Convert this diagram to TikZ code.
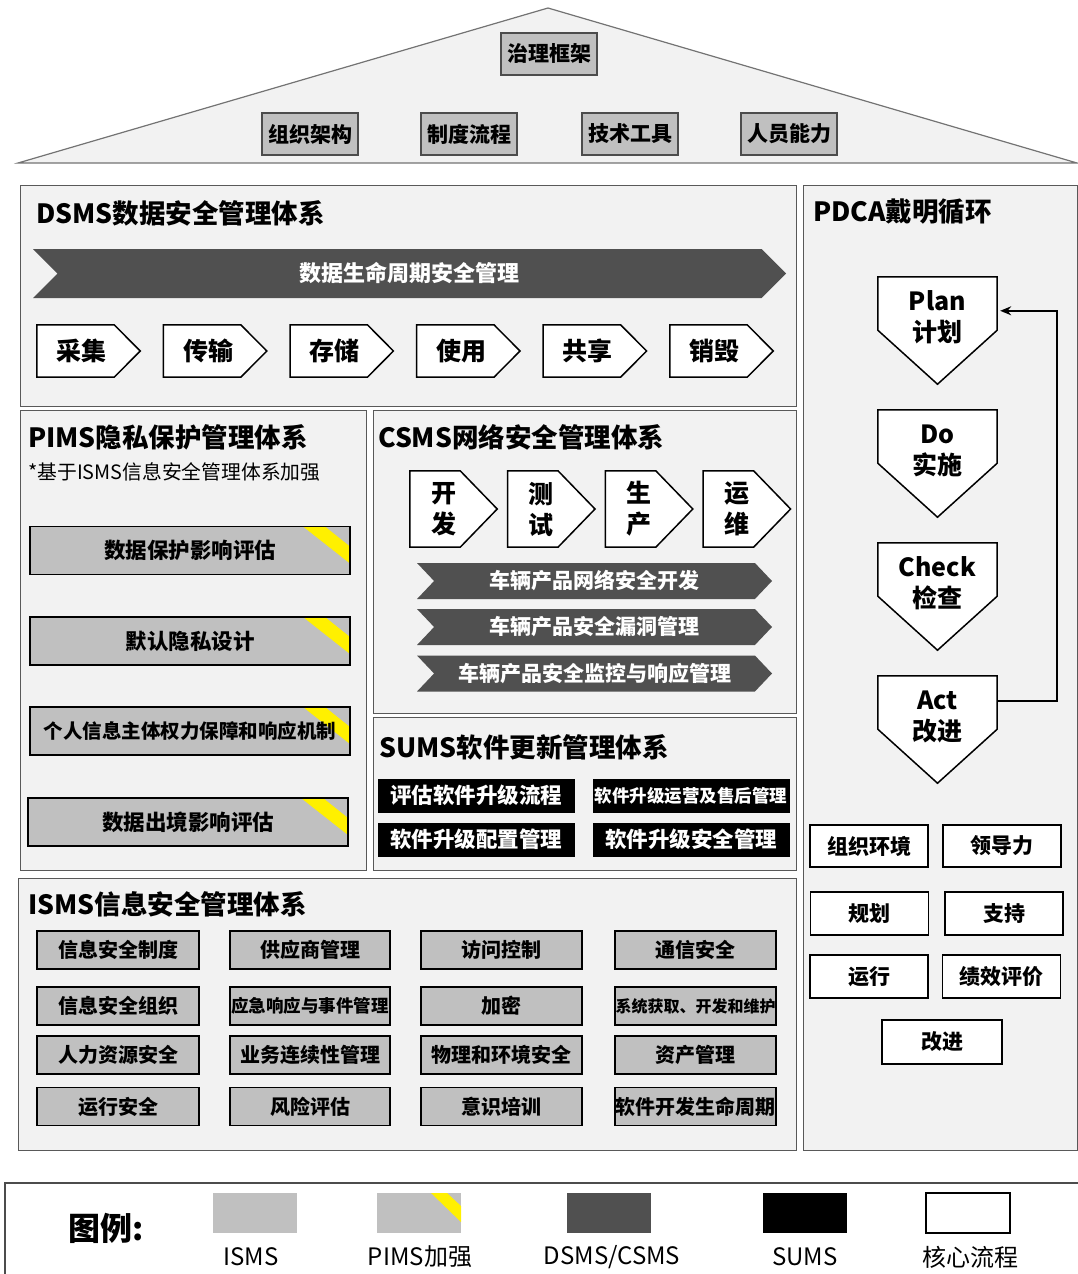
\documentclass[tikz,border=0pt]{standalone}
\usepackage{fontspec}
\setmainfont{Noto Sans CJK SC}
\usetikzlibrary{shapes.symbols, arrows.meta}
\definecolor{panelbg}{HTML}{F2F2F2}
\definecolor{isgray}{HTML}{C0C0C0}
\definecolor{bandgray}{HTML}{505050}
\definecolor{pimsyellow}{HTML}{FFF000}
\newcommand{\fsz}[1]{\fontsize{#1}{#1}\selectfont}

\begin{document}
\begin{tikzpicture}[x=1pt, y=-1pt,
	panel/.style={draw=black!65, line width=1.2pt, fill=panelbg, anchor=north west, inner sep=0pt},
	ptitle/.style={anchor=west, inner sep=0pt, font=\bfseries\fsz{26.5}},
	roofbox/.style={draw=black!70, line width=1.2pt, fill=isgray, minimum width=96pt, minimum height=42pt, inner sep=0pt, font=\bfseries\fsz{21}},
	isbox/.style={draw=black, line width=1.5pt, fill=isgray, minimum height=38pt, inner sep=0pt, font=\bfseries\fsz{20}},
	pimsbox/.style={isbox, minimum width=320pt, minimum height=48pt, font=\bfseries\fsz{21.5},
		path picture={\fill[pimsyellow] ([xshift=-47pt]path picture bounding box.north east) -- ([xshift=-25pt]path picture bounding box.north east) -- ([yshift=-20pt]path picture bounding box.north east) -- ([yshift=-37pt]path picture bounding box.north east) -- cycle;}},
	band/.style={signal, signal to=east, signal from=west, fill=bandgray, inner sep=0pt, text=white, font=\bfseries\fsz{21}},
	stepbox/.style={rectangle, inner sep=0pt},
	coreline/.style={draw=black, line width=1.5pt, fill=white, line join=miter},
	steptext/.style={inner sep=0pt, align=center, font=\bfseries\fontsize{25}{31}\selectfont},
	sumsbox/.style={fill=black, text=white, inner sep=0pt, minimum width=197pt, minimum height=34pt, font=\bfseries\fsz{21.5}},
	corebox/.style={draw=black, line width=1.5pt, fill=white, inner sep=0pt, minimum width=118pt, minimum height=42pt, font=\bfseries\fsz{21}},
	legtext/.style={inner sep=0pt, font=\fsz{24}}
]
\useasboundingbox (0,0) rectangle (1078,1274);

% roof
\draw[draw=black!55, line width=1.2pt, fill=panelbg] (18,163) -- (548,8) -- (1077,163) -- cycle;
\node[roofbox] (gov) at (549,54) {治理框架};
\node[roofbox] (org) at (310,134) {组织架构};
\node[roofbox] (proc) at (469,134) {制度流程};
\node[roofbox] (tool) at (630,134) {技术工具};
\node[roofbox] (staff) at (789,134) {人员能力};

% DSMS
\node[panel, minimum width=776pt, minimum height=221pt] (dsms) at (20,185) {};
\node[ptitle] (dsmst) at (36,213) {DSMS数据安全管理体系};
\node[band, signal pointer angle=90, minimum width=753pt, minimum height=49pt, font=\bfseries\fsz{22}] (life) at (409.5,273.5) {数据生命周期安全管理};
\foreach \t [count=\i from 0] in {采集,传输,存储,使用,共享,销毁}{
	\node[stepbox, minimum width=103pt, minimum height=52pt] (step\i) at (88.5+126.6*\i,351) {};
	\filldraw[coreline] (step\i.north west) -- ([xshift=-26pt]step\i.north east) -- (step\i.east) -- ([xshift=-26pt]step\i.south east) -- (step\i.south west) -- cycle;
	\node[steptext] (stept\i) at ([xshift=-7pt]step\i.center) {\t};
}

% PDCA
\node[panel, minimum width=274pt, minimum height=965pt] (pdca) at (803,185) {};
\node[ptitle] (pdcat) at (813,212) {PDCA戴明循环};
\foreach \t/\n [count=\i from 0] in {Plan\\计划/plan,Do\\实施/do,Check\\检查/check,Act\\改进/act}{
	\node[stepbox, minimum width=119pt, minimum height=107pt] (\n) at (937.5,330.5+133*\i) {};
	\filldraw[coreline] (\n.north west) -- (\n.north east) -- ([yshift=54pt]\n.south east) -- (\n.south) -- ([yshift=54pt]\n.south west) -- cycle;
	\node[steptext] (\n t) at ([yshift=13pt]\n.center) {\t};
}
\draw[line width=1.5pt, -{Stealth[length=11pt, width=9pt]}] ([yshift=-25pt]act.north east) -- ++(60,0) |- ([xshift=3pt, yshift=-34pt]plan.north east);
\node[corebox] (ctx) at (869,846) {组织环境};
\node[corebox] (lead) at (1002,846) {领导力};
\node[corebox, minimum height=43pt] (plnb) at (869.5,913.5) {规划};
\node[corebox, minimum height=43pt] (supp) at (1004,913.5) {支持};
\node[corebox, minimum height=43pt] (oper) at (869,976.5) {运行};
\node[corebox, minimum height=43pt] (perf) at (1001.5,976.5) {绩效评价};
\node[corebox, minimum width=120pt, minimum height=44pt] (impr) at (942,1042) {改进};

% PIMS
\node[panel, minimum width=346pt, minimum height=460pt] (pims) at (20,410) {};
\node[ptitle] (pimst) at (28,437) {PIMS隐私保护管理体系};
\node[anchor=west, inner sep=0pt, font=\fsz{19.8}] (pimsn) at (28,472) {*基于ISMS信息安全管理体系加强};
\node[pimsbox] (dpia) at (190,550.5) {数据保护影响评估};
\node[pimsbox] (pbd) at (190,641) {默认隐私设计};
\node[pimsbox, font=\bfseries\fsz{19.5}] (dsr) at (190,731) {个人信息主体权力保障和响应机制};
\node[pimsbox] (xfer) at (188,822) {数据出境影响评估};

% CSMS
\node[panel, minimum width=423pt, minimum height=303pt] (csms) at (373,410) {};
\node[ptitle] (csmst) at (378,437) {CSMS网络安全管理体系};
\foreach \t [count=\i from 0] in {开\\发,测\\试,生\\产,运\\维}{
	\node[stepbox, minimum width=87pt, minimum height=76pt] (dev\i) at (453.5+97.8*\i,509) {};
	\filldraw[coreline] (dev\i.north west) -- ([xshift=-37pt]dev\i.north east) -- (dev\i.east) -- ([xshift=-37pt]dev\i.south east) -- (dev\i.south west) -- cycle;
	\node[steptext] (devt\i) at ([xshift=-10pt]dev\i.center) {\t};
}
\node[band, signal pointer angle=93, minimum width=355pt, minimum height=36pt] (cs1) at (594.5,581) {车辆产品网络安全开发};
\node[band, signal pointer angle=93, minimum width=355pt, minimum height=36pt] (cs2) at (594.5,627) {车辆产品安全漏洞管理};
\node[band, signal pointer angle=93, minimum width=355pt, minimum height=36pt] (cs3) at (594.5,673.5) {车辆产品安全监控与响应管理};

% SUMS
\node[panel, minimum width=423pt, minimum height=153pt] (sums) at (373,717) {};
\node[ptitle] (sumst) at (379,747) {SUMS软件更新管理体系};
\node[sumsbox] (su1) at (476,795.5) {评估软件升级流程};
\node[sumsbox, font=\bfseries\fsz{17.5}] (su2) at (691,795.5) {软件升级运营及售后管理};
\node[sumsbox] (su3) at (476,839.5) {软件升级配置管理};
\node[sumsbox] (su4) at (691,839.5) {软件升级安全管理};

% ISMS
\node[panel, minimum width=778pt, minimum height=272pt] (isms) at (18,878) {};
\node[ptitle] (ismst) at (28,904) {ISMS信息安全管理体系};
\foreach \yy/\ta/\tb/\tc/\td [count=\r] in {950/信息安全制度/供应商管理/访问控制/通信安全,
		1006/信息安全组织/{\fsz{17.5}应急响应与事件管理}/加密/{\fsz{16}系统获取、开发和维护},
		1055/人力资源安全/业务连续性管理/物理和环境安全/资产管理,
		1106.5/运行安全/风险评估/意识培训/软件开发生命周期}{
	\node[isbox, minimum width=162pt] (is\r a) at (118,\yy) {\ta};
	\node[isbox, minimum width=160pt] (is\r b) at (310,\yy) {\tb};
	\node[isbox, minimum width=161pt] (is\r c) at (501.5,\yy) {\tc};
	\node[isbox, minimum width=161pt] (is\r d) at (695.5,\yy) {\td};
}

% legend
\draw[draw=black!70, line width=1.2pt] (1078,1183) -- (5,1183) -- (5,1274);
\node[inner sep=0pt, font=\bfseries\fsz{32}] (legt) at (106,1228) {图例:};
\node[fill=isgray, minimum width=84pt, minimum height=40pt, inner sep=0pt] (lis) at (255,1213) {};
\node[fill=isgray, minimum width=84pt, minimum height=40pt, inner sep=0pt,
	path picture={\fill[pimsyellow] ([xshift=-30pt]path picture bounding box.north east) -- ([xshift=-14pt]path picture bounding box.north east) -- ([yshift=-13pt]path picture bounding box.north east) -- ([yshift=-29pt]path picture bounding box.north east) -- cycle;}] (lpims) at (419,1213) {};
\node[fill=bandgray, minimum width=84pt, minimum height=40pt, inner sep=0pt] (lds) at (609,1213) {};
\node[fill=black, minimum width=84pt, minimum height=40pt, inner sep=0pt] (lsu) at (805,1213) {};
\node[draw=black, line width=1.5pt, fill=white, minimum width=84pt, minimum height=40pt, inner sep=0pt] (lcore) at (968,1213) {};
\node[legtext] (list) at (251,1257) {ISMS};
\node[legtext] (lpimst) at (420,1257) {PIMS加强};
\node[legtext] (ldst) at (612,1257) {DSMS/CSMS};
\node[legtext] (lsut) at (805,1257) {SUMS};
\node[legtext] (lcoret) at (970,1257) {核心流程};
\end{tikzpicture}
\end{document}
